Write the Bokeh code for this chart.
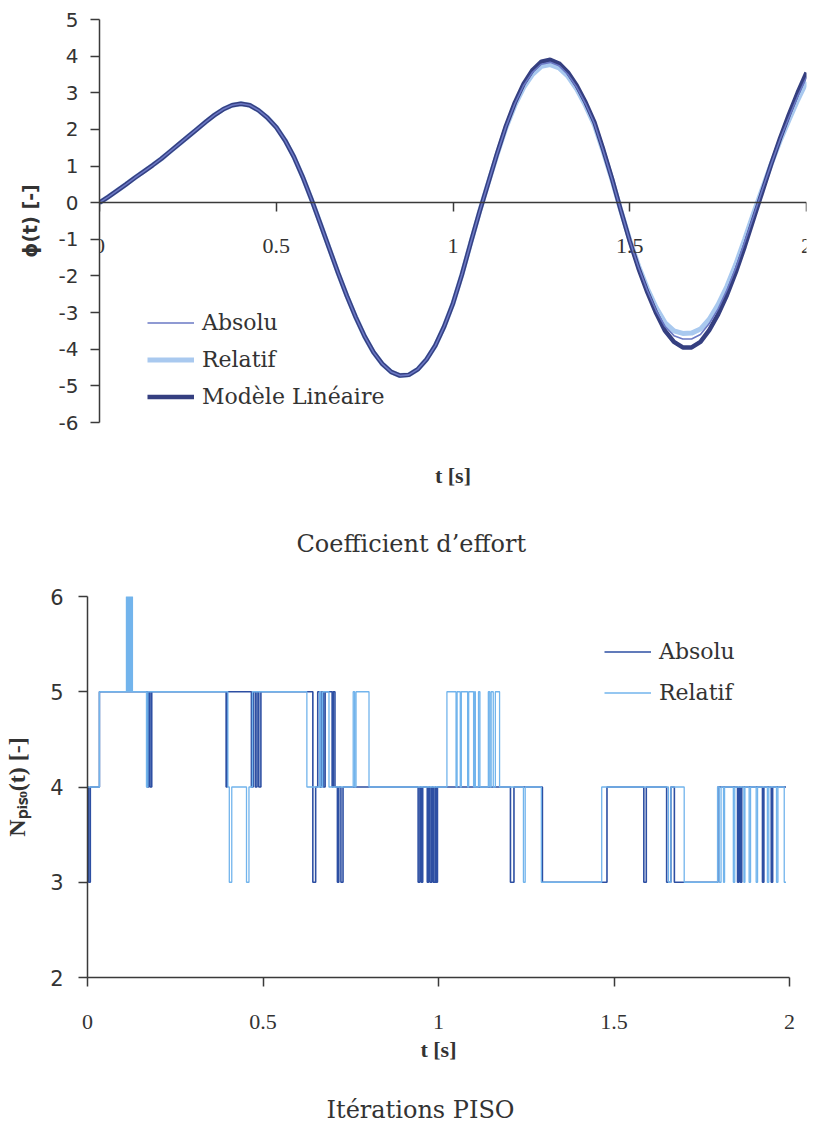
from bokeh.plotting import figure
from bokeh.models import FixedTicker, Legend, LegendItem, Range1d, LinearAxis, Title
from bokeh.embed import file_html
from bokeh.resources import INLINE

# ---------------- data: coefficient d'effort ----------------
t_phi = [0.000, 0.025, 0.050, 0.075, 0.100, 0.125, 0.150, 0.175, 0.200, 0.225,
         0.250, 0.275, 0.300, 0.325, 0.350, 0.375, 0.400, 0.425, 0.450, 0.475,
         0.500, 0.525, 0.550, 0.575, 0.600, 0.625, 0.650, 0.675, 0.700, 0.725,
         0.750, 0.775, 0.800, 0.825, 0.850, 0.875, 0.900, 0.925, 0.950, 0.975,
         1.000, 1.025, 1.050, 1.075, 1.100, 1.125, 1.150, 1.175, 1.200, 1.225,
         1.250, 1.275, 1.300, 1.325, 1.350, 1.375, 1.400, 1.425, 1.450, 1.475,
         1.500, 1.525, 1.550, 1.575, 1.600, 1.625, 1.650, 1.675, 1.700, 1.725,
         1.750, 1.775, 1.800, 1.825, 1.850, 1.875, 1.900, 1.925, 1.950, 1.975, 2.000]
phi_lineaire = [0.00, 0.16, 0.33, 0.50, 0.68, 0.85, 1.02, 1.20, 1.40, 1.60,
                1.80, 2.00, 2.20, 2.39, 2.55, 2.66, 2.70, 2.66, 2.52, 2.32,
                2.06, 1.70, 1.25, 0.70, 0.08, -0.58, -1.25, -1.92, -2.55, -3.13,
                -3.65, -4.08, -4.40, -4.62, -4.72, -4.70, -4.55, -4.28, -3.90, -3.38,
                -2.75, -1.97, -1.10, -0.25, 0.55, 1.35, 2.10, 2.73, 3.25, 3.62,
                3.85, 3.90, 3.80, 3.56, 3.20, 2.74, 2.20, 1.45, 0.65, -0.22,
                -1.05, -1.80, -2.45, -3.02, -3.50, -3.80, -3.95, -3.95, -3.80, -3.48,
                -3.05, -2.52, -1.90, -1.20, -0.45, 0.30, 1.05, 1.75, 2.40, 3.00, 3.55]
phi_absolu = [0.00, 0.16, 0.33, 0.50, 0.68, 0.85, 1.02, 1.20, 1.40, 1.60,
              1.80, 2.00, 2.20, 2.39, 2.55, 2.66, 2.70, 2.66, 2.52, 2.32,
              2.06, 1.70, 1.25, 0.70, 0.08, -0.58, -1.25, -1.92, -2.55, -3.13,
              -3.65, -4.08, -4.40, -4.62, -4.72, -4.70, -4.55, -4.28, -3.90, -3.38,
              -2.75, -1.97, -1.10, -0.25, 0.55, 1.34, 2.08, 2.70, 3.20, 3.56,
              3.78, 3.83, 3.74, 3.50, 3.15, 2.70, 2.16, 1.42, 0.63, -0.22,
              -1.04, -1.77, -2.40, -2.95, -3.38, -3.63, -3.72, -3.72, -3.60, -3.30,
              -2.90, -2.38, -1.78, -1.08, -0.37, 0.35, 1.05, 1.72, 2.32, 2.90, 3.42]
phi_relatif = [0.00, 0.16, 0.33, 0.50, 0.68, 0.85, 1.02, 1.20, 1.40, 1.60,
               1.80, 2.00, 2.20, 2.39, 2.55, 2.66, 2.70, 2.66, 2.52, 2.32,
               2.06, 1.70, 1.25, 0.70, 0.08, -0.58, -1.25, -1.92, -2.55, -3.13,
               -3.65, -4.08, -4.40, -4.62, -4.72, -4.70, -4.55, -4.28, -3.90, -3.38,
               -2.75, -1.97, -1.10, -0.25, 0.55, 1.32, 2.05, 2.66, 3.15, 3.50,
               3.72, 3.77, 3.68, 3.45, 3.10, 2.65, 2.12, 1.40, 0.62, -0.22,
               -1.02, -1.73, -2.35, -2.87, -3.28, -3.50, -3.57, -3.56, -3.45, -3.18,
               -2.78, -2.28, -1.68, -1.00, -0.30, 0.38, 1.05, 1.68, 2.25, 2.80, 3.30]

# ---------------- data: iterations PISO (change points) ----------------
t_abs = [0.000, 0.003, 0.008, 0.034, 0.170, 0.174, 0.178, 0.183, 0.395, 0.398,
         0.467, 0.472, 0.478, 0.483, 0.488, 0.494, 0.642, 0.650, 0.656, 0.662,
         0.667, 0.672, 0.677, 0.697, 0.700, 0.705, 0.712, 0.716, 0.722, 0.728,
         0.942, 0.947, 0.951, 0.955, 0.968, 0.972, 0.976, 0.981, 0.985, 0.990,
         0.993, 0.997, 1.205, 1.215, 1.296, 1.480, 1.585, 1.592, 1.650, 1.662,
         1.672, 1.796, 1.852, 1.856, 1.860, 1.864, 1.923, 1.927, 1.948, 1.952, 1.990]
n_abs = [4, 3, 4, 5, 4, 5, 4, 5, 4, 5,
         4, 5, 4, 5, 4, 5, 3, 4, 5, 4,
         5, 4, 5, 4, 5, 4, 3, 4, 3, 4,
         3, 4, 3, 4, 3, 4, 3, 4, 3, 4,
         3, 4, 3, 4, 3, 4, 3, 4, 3, 4,
         3, 4, 3, 4, 3, 4, 3, 4, 3, 4, 4]
t_rel = [0.000, 0.034, 0.111, 0.114, 0.116, 0.119, 0.121, 0.124, 0.126, 0.128,
         0.168, 0.172, 0.400, 0.404, 0.411, 0.453, 0.460, 0.470, 0.625, 0.661,
         0.665, 0.670, 0.688, 0.757, 0.761, 0.765, 0.802, 1.024, 1.050, 1.053,
         1.062, 1.065, 1.083, 1.086, 1.100, 1.103, 1.105, 1.114, 1.118, 1.142,
         1.146, 1.150, 1.156, 1.162, 1.174, 1.242, 1.247, 1.293, 1.465, 1.655,
         1.662, 1.700, 1.795, 1.800, 1.805, 1.812, 1.815, 1.840, 1.844, 1.870,
         1.873, 1.885, 1.889, 1.905, 1.909, 1.937, 1.941, 1.963, 1.967, 1.985, 1.990]
n_rel = [4, 5, 6, 5, 6, 5, 6, 5, 6, 5,
         4, 5, 4, 3, 4, 3, 4, 5, 4, 5,
         4, 5, 4, 5, 4, 5, 4, 5, 4, 5,
         4, 5, 4, 5, 4, 5, 4, 5, 4, 5,
         4, 5, 4, 5, 4, 3, 4, 3, 4, 3,
         4, 3, 4, 3, 4, 3, 4, 3, 4, 3,
         4, 3, 4, 3, 4, 3, 4, 3, 4, 3, 3]

x_ticks = [0, 0.5, 1, 1.5, 2]
x_tick_labels = ["0", "0.5", "1", "1.5", "2"]
phi_ticks = [-6, -5, -4, -3, -2, -1, 0, 1, 2, 3, 4, 5]
phi_tick_labels = ["-6", "-5", "-4", "-3", "-2", "-1", "0", "1", "2", "3", "4", "5"]
n_ticks = [2, 3, 4, 5, 6]
n_tick_labels = ["2", "3", "4", "5", "6"]

AX = "#3a3a3a"
TXT = "#333333"


def style_axis(ax, tick_font, tick_size, standoff):
    ax.axis_line_color = AX
    ax.axis_line_width = 1.5
    ax.major_tick_line_color = AX
    ax.major_tick_line_width = 1.5
    ax.minor_tick_line_color = None
    ax.major_tick_in = 0
    ax.major_tick_out = 9
    ax.major_label_text_font = tick_font
    ax.major_label_text_font_size = tick_size
    ax.major_label_text_color = TXT
    ax.major_label_standoff = standoff


def label_axis(label, standoff):
    ax = LinearAxis(ticker=FixedTicker(ticks=[]), axis_label=label)
    ax.axis_line_color = None
    ax.major_tick_line_color = None
    ax.minor_tick_line_color = None
    ax.major_tick_in = 0
    ax.major_tick_out = 0
    ax.major_label_standoff = 0
    ax.axis_label_text_font = "Liberation Serif"
    ax.axis_label_text_font_size = "22px"
    ax.axis_label_text_font_style = "bold"
    ax.axis_label_text_color = TXT
    ax.axis_label_standoff = standoff
    return ax


def spacer(gap):
    return Title(text=" ", text_font_size="1px", standoff=gap, vertical_align="top")


def caption(text, left):
    return Title(text=text, align="left", vertical_align="top", offset=left, standoff=0,
                 text_font="DejaVu Serif", text_font_size="24px", text_font_style="normal",
                 text_color=TXT)


def style_legend(leg, h):
    leg.background_fill_alpha = 0
    leg.border_line_color = None
    leg.padding = 0
    leg.margin = 0
    leg.spacing = 0
    leg.glyph_width = 47
    leg.glyph_height = h
    leg.label_height = h
    leg.label_standoff = 8
    leg.label_text_font = "DejaVu Serif"
    leg.label_text_font_size = "22px"
    leg.label_text_color = TXT


# ---------------- top chart ----------------
p1 = figure(width=815, height=564, x_range=Range1d(0, 2), y_range=Range1d(-6, 5),
            output_backend="svg", toolbar_location=None,
            min_border_left=99, min_border_right=9, min_border_top=19, min_border_bottom=142)
p1.outline_line_color = None
p1.grid.visible = False

r_rel = p1.line(t_phi, phi_relatif, line_color="#a9c9ef", line_width=5)
r_lin = p1.line(t_phi, phi_lineaire, line_color="#353f80", line_width=4.5)
r_abs = p1.line(t_phi, phi_absolu, line_color="#6a78c4", line_width=1.6)

p1.xaxis.ticker = FixedTicker(ticks=x_ticks)
p1.xaxis.major_label_overrides = dict(zip(x_ticks, x_tick_labels))
p1.xaxis.fixed_location = 0
style_axis(p1.xaxis[0], "Liberation Serif", "22px", 27)
p1.yaxis.ticker = FixedTicker(ticks=phi_ticks)
p1.yaxis.major_label_overrides = dict(zip(phi_ticks, phi_tick_labels))
style_axis(p1.yaxis[0], "DejaVu Sans", "20px", 12)
p1.yaxis.axis_label = "ϕ(t) [-]"
p1.yaxis.axis_label_text_font = "DejaVu Sans"
p1.yaxis.axis_label_text_font_style = "bold"
p1.yaxis.axis_label_text_font_size = "19px"
p1.yaxis.axis_label_text_color = TXT
p1.yaxis.axis_label_standoff = 15

p1.add_layout(label_axis("t [s]", 40), "below")
p1.add_layout(spacer(36), "below")
p1.add_layout(caption("Coefficient d’effort", 197), "below")

leg1 = Legend(items=[LegendItem(label="Absolu", renderers=[r_abs]),
                     LegendItem(label="Relatif", renderers=[r_rel]),
                     LegendItem(label="Modèle Linéaire", renderers=[r_lin])],
              location=(48, 7), orientation="vertical")
style_legend(leg1, 37)
p1.add_layout(leg1, "center")

# ---------------- bottom chart ----------------
p2 = figure(width=815, height=563, x_range=Range1d(0, 2), y_range=Range1d(2, 6),
            output_backend="svg", toolbar_location=None,
            min_border_left=87, min_border_right=26, min_border_top=32, min_border_bottom=150)
p2.outline_line_color = None
p2.grid.visible = False

s_abs = p2.step(t_abs, n_abs, mode="after", line_color="#2d4fa3", line_width=1.6)
s_rel = p2.step(t_rel, n_rel, mode="after", line_color="#72b4ec", line_width=1.3)

p2.xaxis.ticker = FixedTicker(ticks=x_ticks)
p2.xaxis.major_label_overrides = dict(zip(x_ticks, x_tick_labels))
style_axis(p2.xaxis[0], "Liberation Serif", "22px", 28)
p2.xaxis.axis_label = "t [s]"
p2.xaxis.axis_label_text_font = "Liberation Serif"
p2.xaxis.axis_label_text_font_style = "bold"
p2.xaxis.axis_label_text_font_size = "22px"
p2.xaxis.axis_label_text_color = TXT
p2.xaxis.axis_label_standoff = 5
p2.yaxis.ticker = FixedTicker(ticks=n_ticks)
p2.yaxis.major_label_overrides = dict(zip(n_ticks, n_tick_labels))
style_axis(p2.yaxis[0], "DejaVu Sans", "21px", 15)
p2.yaxis.axis_label = "Nₚᵢₛₒ(t) [-]"
p2.yaxis.axis_label_text_font = "Liberation Serif"
p2.yaxis.axis_label_text_font_style = "bold"
p2.yaxis.axis_label_text_font_size = "24px"
p2.yaxis.axis_label_text_color = TXT
p2.yaxis.axis_label_standoff = 17

p2.add_layout(spacer(28), "below")
p2.add_layout(caption("Itérations PISO", 239), "below")

leg2 = Legend(items=[LegendItem(label="Absolu", renderers=[s_abs]),
                     LegendItem(label="Relatif", renderers=[s_rel])],
              location=(517, 264), orientation="vertical")
style_legend(leg2, 41)
p2.add_layout(leg2, "center")

open("out.html", "w").write(file_html([p1, p2], INLINE))
